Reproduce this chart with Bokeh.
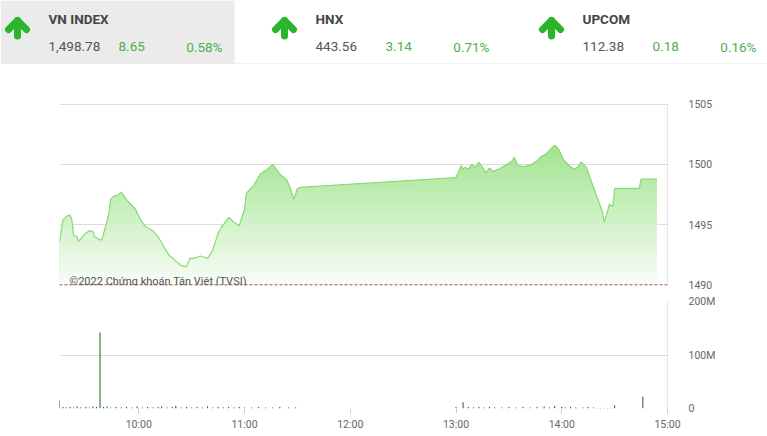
import numpy as np
from bokeh.plotting import figure
from bokeh.models import (Range1d, FixedTicker, Span, Label, BoxAnnotation,
                          LinearAxis, Grid)
from bokeh.layouts import column
from bokeh.embed import file_html
from bokeh.resources import INLINE

# ---------------- data ----------------
index_names = ["VN INDEX", "HNX", "UPCOM"]
index_values = [1498.78, 443.56, 112.38]
index_changes = [8.65, 3.14, 0.18]
index_pcts = [0.58, 0.71, 0.16]

price_times = [
    "09:15", "09:16", "09:17", "09:19", "09:21", "09:22", "09:23", "09:25", "09:26", "09:28",
    "09:30", "09:32", "09:34", "09:35", "09:37", "09:39", "09:41", "09:43", "09:44", "09:46",
    "09:48", "09:50", "09:52", "09:54", "09:58", "10:01", "10:04", "10:08", "10:11", "10:14",
    "10:17", "10:20", "10:24", "10:27", "10:29", "10:31", "10:35", "10:39", "10:42", "10:45",
    "10:47", "10:51", "10:54", "10:57", "11:00", "11:01", "11:05", "11:09", "11:13", "11:16",
    "11:18", "11:20", "11:24", "11:26", "11:28", "11:30", "11:32",
    "13:00", "13:03", "13:04", "13:05", "13:07", "13:09", "13:11", "13:13", "13:15", "13:17",
    "13:19", "13:21", "13:24", "13:26", "13:29", "13:32", "13:33", "13:35", "13:38", "13:41",
    "13:43", "13:46", "13:48", "13:51", "13:54", "13:56", "13:58", "14:01", "14:04", "14:07",
    "14:09", "14:11", "14:14", "14:15", "14:17", "14:19", "14:21", "14:23", "14:24", "14:26",
    "14:27", "14:29", "14:30", "14:44", "14:45", "14:54"]
price_values = [
    1493.6, 1494.5, 1495.4, 1495.7, 1495.8, 1495.4, 1494.1, 1494.0, 1493.6, 1494.0,
    1494.3, 1494.5, 1494.4, 1494.0, 1493.8, 1493.7, 1494.8, 1495.9, 1497.1, 1497.4,
    1497.4, 1497.7, 1497.3, 1496.9, 1496.3, 1495.4, 1494.8, 1494.5, 1494.0, 1493.2,
    1492.5, 1492.1, 1491.6, 1491.5, 1492.2, 1492.2, 1492.4, 1492.2, 1492.9, 1494.3,
    1494.8, 1495.6, 1495.2, 1494.9, 1496.3, 1497.6, 1498.2, 1499.2, 1499.6, 1500.0,
    1499.6, 1499.2, 1498.7, 1498.0, 1497.1, 1498.0, 1498.1,
    1498.9, 1499.9, 1499.6, 1499.75, 1499.6, 1500.0, 1499.75, 1500.2, 1499.75, 1499.3,
    1499.7, 1499.4, 1499.6, 1499.75, 1500.0, 1500.3, 1500.6, 1499.95, 1499.8, 1499.9,
    1500.0, 1500.3, 1500.6, 1500.85, 1501.3, 1501.6, 1501.3, 1500.4, 1499.9, 1499.6,
    1499.75, 1500.2, 1499.75, 1499.3, 1498.5, 1497.7, 1496.9, 1496.1, 1495.2, 1496.1,
    1496.7, 1496.5, 1498.0, 1498.0, 1498.78, 1498.78]

volume_times = ["09:15", "09:17", "09:19", "09:21", "09:23", "09:25", "09:27", "09:30",
                "09:32", "09:34", "09:36", "09:38", "09:40", "09:42", "09:44", "09:47",
                "09:50", "09:53", "09:56", "09:59", "10:02", "10:05", "10:08", "10:11",
                "10:13", "10:16", "10:19", "10:21", "10:24", "10:27", "10:30", "10:33",
                "10:36", "10:39", "10:42", "10:45", "10:48", "10:51", "10:54", "10:57",
                "11:00", "11:04", "11:08", "11:12", "11:16", "11:20", "11:25", "11:29",
                "13:00", "13:04", "13:07", "13:10", "13:13", "13:16", "13:19", "13:22",
                "13:26", "13:30", "13:34", "13:38", "13:42", "13:46", "13:50", "13:53",
                "13:56", "14:00", "14:02", "14:05", "14:08", "14:12", "14:15", "14:18",
                "14:20", "14:22", "14:24", "14:26", "14:28", "14:30", "14:46"]
volume_millions = [15, 3, 2, 3, 2, 4, 2, 3,
                   2, 4, 3, 142, 3, 4, 2, 3,
                   2, 3, 2, 4, 2, 3, 2, 3,
                   4, 2, 3, 5, 2, 3, 2, 3,
                   2, 4, 2, 3, 2, 3, 2, 3,
                   2, 2, 3, 2, 2, 3, 2, 2,
                   3, 12, 3, 2, 3, 2, 3, 2,
                   2, 3, 2, 3, 2, 3, 4, 2,
                   5, 3, 2, 3, 2, 2, 3, 2,
                   1, 1, 1, 1, 1, 6, 22]

price_ticks = [1490, 1495, 1500, 1505]
volume_ticks = [0, 100, 200]
volume_tick_labels = ["0", "100M", "200M"]
hour_ticks = [10, 11, 12, 13, 14, 15]
hour_tick_labels = ["10:00", "11:00", "12:00", "13:00", "14:00", "15:00"]


def to_hours(s):
    h, m = s.split(":")
    return int(h) + int(m) / 60.0


pt = np.array([to_hours(s) for s in price_times])
pv = np.array(price_values)
vt = np.array([to_hours(s) for s in volume_times])
vv = np.array(volume_millions, dtype=float)

W = 767
FONT = "Roboto"
LABEL_COLOR = "#666666"
GRID_COLOR = "#dcdcdc"

# ---------------- header ----------------
h = figure(width=W, height=64, x_range=Range1d(0, W), y_range=Range1d(64, 0),
           output_backend="svg", toolbar_location=None,
           x_axis_location=None, y_axis_location=None,
           min_border=0, min_border_left=0, min_border_right=0,
           min_border_top=0, min_border_bottom=0)
h.outline_line_color = None
h.grid.visible = False
h.add_layout(BoxAnnotation(left=0, right=234, top=0, bottom=63, level="underlay",
                           fill_color="#ebebeb", fill_alpha=1, line_color=None))
h.add_layout(Span(location=63.5, dimension="width", line_color="#e2e2e2", line_width=1))

col_x = [48, 315, 582]
arrow_color = "#2bb52b"
green = "#4cb050"
for i, name in enumerate(index_names):
    x0 = col_x[i]
    ax = x0 - 31
    h.multi_line(xs=[[ax - 9, ax, ax + 9], [ax, ax]],
                 ys=[[29, 20, 29], [20, 35.5]],
                 line_color=arrow_color, line_width=7,
                 line_cap="round", line_join="round")
    h.add_layout(Label(x=x0, y=18, text=name, text_font=FONT, text_font_size="13.5px",
                       text_font_style="bold", text_color="#454545",
                       text_baseline="middle", text_align="left"))
    h.add_layout(Label(x=x0, y=46, text=f"{index_values[i]:,.2f}", text_font=FONT,
                       text_font_size="13.5px", text_color="#555555",
                       text_baseline="middle", text_align="left"))
    h.add_layout(Label(x=x0 + 70, y=46, text=f"{index_changes[i]:.2f}", text_font=FONT,
                       text_font_size="13.5px", text_color=green,
                       text_baseline="middle", text_align="left"))
    h.add_layout(Label(x=x0 + 174, y=46, text=f"{index_pcts[i]:.2f}%", text_font=FONT,
                       text_font_size="13.5px", text_color=green,
                       text_baseline="middle", text_align="right"))

# ---------------- price chart ----------------
x_range = Range1d(9.25, 15.0)
p = figure(width=W, height=229, x_range=x_range, y_range=Range1d(1489.95, 1505.05),
           output_backend="svg", toolbar_location=None,
           x_axis_location=None, y_axis_location=None,
           min_border_left=59, min_border_right=100, min_border_top=39, min_border_bottom=8)
p.outline_line_color = None
p.grid.visible = False

py_axis = LinearAxis(ticker=FixedTicker(ticks=price_ticks))
py_axis.axis_line_color = None
py_axis.major_tick_line_color = None
py_axis.minor_tick_line_color = None
py_axis.major_label_standoff = 15
py_axis.major_label_text_font = FONT
py_axis.major_label_text_font_size = "10.5px"
py_axis.major_label_text_color = LABEL_COLOR
p.add_layout(py_axis, "right")
p.add_layout(Grid(dimension=1, ticker=FixedTicker(ticks=[1495, 1500, 1505]),
                  grid_line_color=GRID_COLOR))

# gradient fill via stacked layers
levels = np.linspace(1505, 1490.2, 50)
for L in levels:
    frac = min(max((L - 1490) / 12.0, 0), 1)
    r = int(250 - frac * (250 - 160))
    g = int(254 - frac * (254 - 228))
    b = int(250 - frac * (250 - 140))
    p.varea(x=pt, y1=1489.95, y2=np.minimum(pv, L), fill_color=(r, g, b), fill_alpha=1)
p.line(pt, pv, line_color="#8cd97a", line_width=1.2)

p.add_layout(Span(location=1490, dimension="width", line_color="#a0302a",
                  line_width=1, line_dash="3 2"))
p.add_layout(Span(location=15.0, dimension="height", line_color="#cccccc", line_width=1))
p.add_layout(Label(x=9.345, y=1490.25, text="©2022 Chứng khoán Tân Việt (TVSI)",
                   text_font=FONT, text_font_size="11px", text_color="#555555",
                   text_baseline="alphabetic"))

# ---------------- volume chart ----------------
v = figure(width=W, height=143, x_range=x_range, y_range=Range1d(0, 200),
           output_backend="svg", toolbar_location=None,
           x_axis_location=None, y_axis_location=None,
           min_border_left=59, min_border_right=100, min_border_top=8, min_border_bottom=28)
v.outline_line_color = None
v.grid.visible = False

vy_axis = LinearAxis(ticker=FixedTicker(ticks=volume_ticks),
                     major_label_overrides=dict(zip(volume_ticks, volume_tick_labels)))
vy_axis.axis_line_color = None
vy_axis.major_tick_line_color = None
vy_axis.minor_tick_line_color = None
vy_axis.major_label_standoff = 15
vy_axis.major_label_text_font = FONT
vy_axis.major_label_text_font_size = "10.5px"
vy_axis.major_label_text_color = LABEL_COLOR
v.add_layout(vy_axis, "right")

vx_axis = LinearAxis(ticker=FixedTicker(ticks=hour_ticks),
                     major_label_overrides=dict(zip(hour_ticks, hour_tick_labels)))
vx_axis.axis_line_color = None
vx_axis.major_tick_line_color = "#cccccc"
vx_axis.major_tick_in = 0
vx_axis.major_tick_out = 5
vx_axis.minor_tick_line_color = None
vx_axis.major_label_standoff = 4
vx_axis.major_label_text_font = FONT
vx_axis.major_label_text_font_size = "10.5px"
vx_axis.major_label_text_color = LABEL_COLOR
v.add_layout(vx_axis, "below")

v.add_layout(Grid(dimension=1, ticker=FixedTicker(ticks=[0, 100, 200]),
                  grid_line_color=GRID_COLOR))
v.add_layout(Span(location=15.0, dimension="height", line_color="#cccccc", line_width=1))
v.segment(x0=vt, y0=0, x1=vt, y1=vv, line_color="#1e5e1e", line_width=1)

layout = column(h, column(p, v))
open("out.html", "w").write(file_html(layout, INLINE))
